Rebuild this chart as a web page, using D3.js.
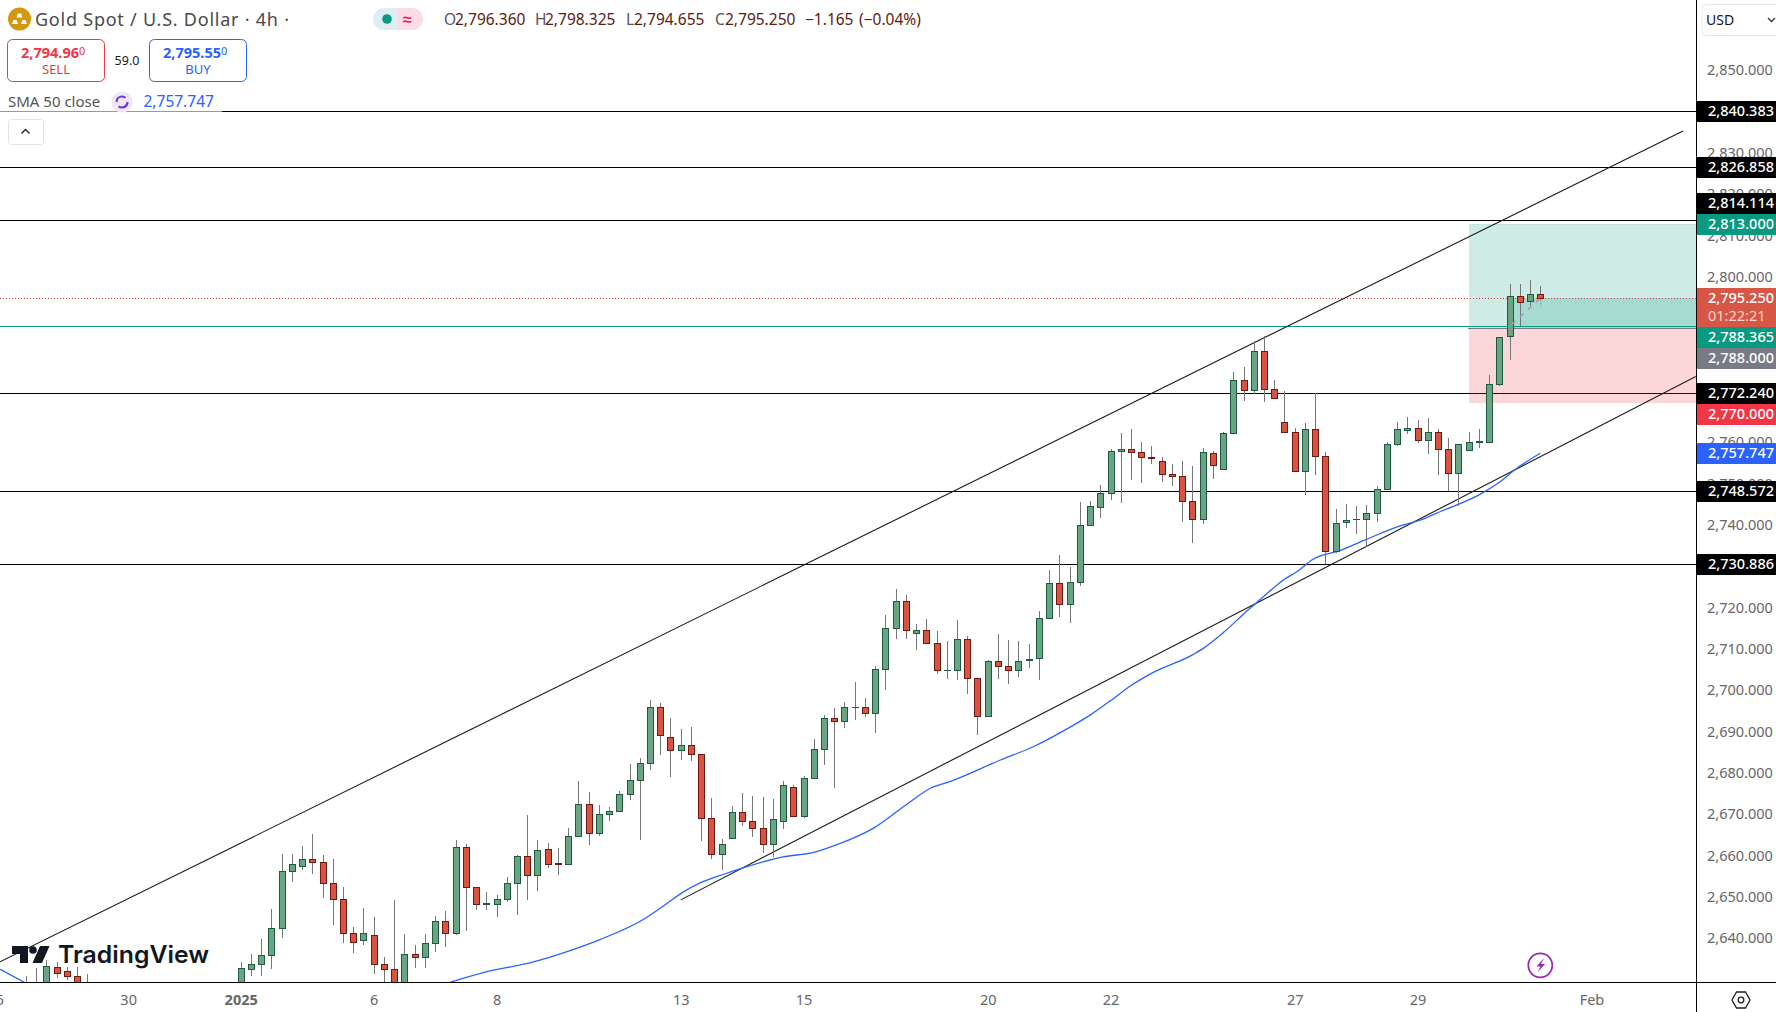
<!DOCTYPE html>
<html><head><meta charset="utf-8">
<script src="https://cdn.jsdelivr.net/npm/d3@7"></script>
<style>
html,body{margin:0;padding:0;background:#fff;overflow:hidden}
svg{display:block}
text{font-family:"Noto Sans",sans-serif}
</style></head><body>
<svg id="c" width="1776" height="1012"></svg>
<script>
// ---------- data ----------
const barIndex = d3.range(-21,-14).concat(d3.range(0,128));
const opens = [2626,2627,2628,2633.4,2632.4,2631.4,2629,
2627,2633.0,2634.1,2636.3,2643.0,2656.6,2657.8,2659.5,2658.8,2653.7,
2649.8,2641.8,2639.9,2641.3,2634.1,2632.9,2627,2636.7,2636.0,2639.2,
2644.5,2641.6,2662.4,2652.7,2648.8,2648.8,2650.0,2653.7,2660.2,2655.6,
2662.1,2658.6,2658.5,2665.1,2672.8,2666.0,2670.4,2671.1,2675.2,2678.6,
2682.7,2696.3,2689.2,2685.9,2687.1,2684.9,2669.4,2660.9,2664.6,2670.9,
2668.7,2667.2,2663.1,2668.9,2676.9,2669.9,2679.3,2686.1,2693.8,2692.9,
2696.3,2696.3,2694.8,2705.5,2715.4,2721.9,2714.2,2714.9,2711.8,2705.2,
2705.2,2712.7,2703.3,2694.1,2707.4,2706.2,2705.2,2707.8,2708.1,2718.0,
2726.3,2721.4,2726.5,2740.3,2744.7,2748.1,2758.2,2758.7,2758.0,2756.8,
2755.8,2752.7,2752.2,2746.1,2741.8,2757.7,2753.9,2762.6,2775.4,2773.0,
2782.4,2773.4,2765.2,2763.0,2753.4,2763.5,2757.2,2734.0,2741.0,2741.8,
2741.8,2743.4,2749.0,2759.9,2763.3,2763.8,2760.9,2762.8,2758.9,2752.9,
2758.5,2760.5,2760.5,2774.4,2786.0,2795.7,2794.5,2796.36];
const closes = [2628,2629,2633.8,2632.1,2631.4,2627,2626,
2633.1,2634.1,2636.3,2643.0,2656.6,2658.3,2659.5,2658.8,2653.7,2649.8,
2641.8,2639.6,2641.6,2634.1,2632.9,2627,2636.7,2636.0,2639.2,2644.5,
2641.6,2662.4,2652.7,2648.6,2648.9,2650.0,2653.7,2660.2,2655.6,2661.7,
2658.5,2658.5,2665.1,2672.8,2666.0,2670.4,2671.1,2675.2,2678.6,2682.7,
2696.3,2689.5,2685.9,2687.1,2684.9,2669.4,2660.9,2663.1,2670.9,2668.7,
2667.2,2663.1,2669.2,2677.6,2669.9,2679.3,2686.1,2693.8,2692.9,2696.3,
2696.4,2694.8,2705.5,2715.4,2721.9,2714.9,2714.9,2711.8,2705.2,2705.3,
2712.7,2703.3,2694.1,2707.4,2706.2,2705.2,2707.6,2707.9,2718.0,2726.3,
2721.4,2726.5,2740.3,2744.9,2748.1,2758.2,2758.7,2758.0,2756.8,2756.7,
2752.7,2752.2,2746.1,2741.8,2758.0,2754.8,2762.6,2775.4,2773.0,2782.4,
2773.4,2771.0,2762.9,2753.4,2763.5,2757.2,2734.0,2740.8,2741.5,2741.9,
2743.4,2749.0,2759.9,2763.5,2763.8,2760.9,2762.8,2758.7,2752.9,2760.1,
2760.4,2760.6,2774.4,2785.8,2795.7,2794.3,2796.4,2795.25];
const highs = [2631.3,2633.3,2635.1,2634.6,2633.4,2633.4,2631.7,
2634.6,2636.6,2640.2,2647.4,2660.8,2660.8,2662.7,2665.6,2660.5,2659.6,
2652.8,2643.1,2647.7,2645.5,2635.8,2649.6,2641.4,2638.8,2641.4,2645.8,
2647.0,2664.3,2663.1,2652.7,2651.6,2650.8,2655.2,2660.5,2670.2,2664.2,
2663.4,2662.2,2667.1,2678.4,2675.7,2672.6,2672.1,2676.0,2682.6,2684.0,
2698.0,2697.3,2693.7,2691.0,2691.5,2685.1,2674.3,2664.4,2672.4,2675.5,
2674.8,2674.6,2674.1,2678.4,2677.4,2679.6,2688.6,2694.4,2696.1,2697.6,
2702.4,2698.5,2706.3,2718.6,2724.9,2723.4,2716.4,2717.6,2714.7,2712.3,
2717.4,2713.5,2703.3,2707.7,2714.0,2712.6,2712.3,2711.6,2719.6,2729.5,
2733.1,2730.2,2746.0,2746.2,2750.1,2758.8,2762.7,2763.6,2760.5,2759.5,
2756.8,2755.2,2755.9,2754.7,2759.0,2758.3,2762.9,2777.4,2778.6,2784.8,
2786.0,2775.5,2772.8,2763.8,2765.0,2772.3,2758.0,2744.3,2745.5,2745.1,
2745.2,2749.8,2760.5,2765.3,2766.5,2765.8,2766.3,2763.6,2761.4,2760.1,
2762.9,2763.6,2776.7,2785.8,2798.7,2798.7,2799.7,2798.325];
const lows = [2622,2624,2627,2630.8,2630.3,2625,2625,
2625,2631.3,2631.3,2633.0,2640.5,2654.1,2657.0,2656.0,2650.2,2643.7,
2639.3,2636.9,2638.8,2631.8,2628,2625,2626,2633.3,2633.3,2637.2,
2638.4,2641.2,2642.2,2647.2,2647.3,2645.6,2649.2,2646.1,2649.7,2651.9,
2657.5,2655.8,2658.2,2664.8,2663.0,2665.2,2668.8,2670.9,2673.8,2664.3,
2681.1,2684.8,2679.5,2683.6,2683.3,2664.0,2659.6,2657.0,2664.6,2667.6,
2665.0,2661.1,2660.1,2666.9,2669.8,2669.6,2679.2,2682.4,2676.8,2691.3,
2693.3,2694.0,2690.1,2700.5,2712.9,2712.9,2710.2,2711.5,2704.4,2703.2,
2703.0,2699.6,2689.7,2694.1,2703.2,2702.0,2703.5,2705.9,2703.0,2718.0,
2718.2,2716.8,2725.7,2740.2,2742.2,2746.5,2745.8,2751.4,2750.6,2755.2,
2750.9,2749.9,2741.0,2736.1,2740.7,2751.6,2753.9,2762.5,2770.5,2772.0,
2770.2,2771.0,2762.9,2753.1,2747.7,2752.6,2730.9,2733.5,2739.7,2738.3,
2735.0,2741.2,2749.0,2759.6,2762.5,2760.3,2757.6,2752.6,2748.5,2745.1,
2758.5,2759.1,2760.5,2774.0,2780.4,2788.5,2793.4,2794.655];

const smaLeftIndex = [-23.5,-21.1];
const smaLeftValue = [2632.9,2629.7];
const smaIndex = [20.5,23.7,28.6,31.9,35.1,39.3,41.3,43.3,44.9,47.2,49.4,53,56,58.2,61.8,65.4,67.4,69.3,74.3,77.5,80.7,83,84.95,86.9,89,93.1,94.1,96,98.6,99.6,101.9,103.2,104.8,107.4,110,112.3,115.9,117.2,121.1,123.1,124.7,127];
const smaValue = [2629.8,2632.1,2634.7,2637.2,2640.1,2644.9,2648.2,2651.7,2653.8,2655.9,2657.7,2660.1,2661.2,2663.0,2667.0,2673.4,2676.7,2678.3,2683.6,2686.8,2691.0,2694.4,2697.8,2701.4,2704.5,2709.1,2710.6,2714.3,2720.2,2722.3,2727.1,2729.1,2732.1,2734.2,2736.9,2739.3,2742.2,2743.6,2747.8,2750.9,2754.1,2757.747];

const levels = [2840.383,2826.858,2814.114,2772.240,2748.572,2730.886];
const channelUpper = [[-23.52,2634.7],[140.95,2835.7]];
const channelLower = [[43.0,2649.7],[142.2,2776.3]];
const entryLine = 2788.365, lastPrice = 2795.25;
const targetLevel = 2813, entryLevel = 2788, stopLevel = 2770;
const positionStartIndex = 120.0, activeStartIndex = 124.3;
const pathIndex = [124.2,127], pathValue = [2788.9,2795.25];
const lastBarDash = [2795.25,2793.3];

const priceTicks = d3.range(2640,2851,10);
const timeTickIndex = [-24,-11,0,13,25,43,55,73,85,103,115,132];
const timeTickLabels = ["26","30","2025","6","8","13","15","20","22","27","29","Feb"];

const tagValues = [2840.383,2826.858,2814.114,2813,2788.365,2788,2772.24,2770,2757.747,2748.572,2730.886];
const tagColors = ["#000","#000","#000","#089981","#089981","#787b86","#000","#f23645","#2962ff","#000","#000"];
const tagShifts = [0,0,-17,0,11,30,0,12,0,0,0];

// ---------- scales ----------
const W=1776,H=1012,plotR=1696,plotB=982;
const x=d3.scaleLinear().domain([0,127]).range([240.7,1540.3]);
const y=d3.scaleLinear().domain([2840.383,2730.886]).range([111.7,564.3]);
const svg=d3.select("#c");
svg.append("defs").append("clipPath").attr("id","plot").append("rect").attr("width",plotR).attr("height",plotB);
const plot=svg.append("g").attr("clip-path","url(#plot)");
const crisp=s=>s.attr("shape-rendering","crispEdges");
const fmt=d3.format(",.3f");
const rowY=v=>Math.floor(y(v))+.5;

// ---------- horizontal levels ----------
crisp(plot.selectAll(".lv").data(levels).join("line").attr("x1",0).attr("x2",plotR)
  .attr("y1",rowY).attr("y2",rowY).attr("stroke","#000"));

// ---------- position tool ----------
const pxStart=x(positionStartIndex), axStart=x(activeStartIndex);
crisp(plot.append("rect").attr("x",pxStart).attr("y",y(targetLevel)).attr("width",plotR-pxStart).attr("height",y(entryLevel)-y(targetLevel)).attr("fill","#089981").attr("fill-opacity",.2));
crisp(plot.append("rect").attr("x",pxStart).attr("y",y(entryLevel)).attr("width",plotR-pxStart).attr("height",y(stopLevel)-y(entryLevel)).attr("fill","#f23645").attr("fill-opacity",.2));
crisp(plot.append("rect").attr("x",axStart).attr("y",y(lastPrice)).attr("width",plotR-axStart).attr("height",y(entryLevel)-y(lastPrice)).attr("fill","#089981").attr("fill-opacity",.2));
crisp(plot.append("line").attr("x1",pxStart).attr("x2",plotR).attr("y1",rowY(targetLevel)).attr("y2",rowY(targetLevel)).attr("stroke","#089981").attr("stroke-opacity",.25));
crisp(plot.append("line").attr("x1",pxStart-1).attr("x2",plotR).attr("y1",rowY(entryLevel)).attr("y2",rowY(entryLevel)).attr("stroke","#787b86").attr("stroke-width",1));

// ---------- teal + dotted ----------
crisp(plot.append("line").attr("x1",0).attr("x2",plotR).attr("y1",rowY(entryLine)).attr("y2",rowY(entryLine)).attr("stroke","#089981").attr("stroke-width",1));
crisp(plot.append("line").attr("x1",0).attr("x2",plotR).attr("y1",rowY(lastPrice)).attr("y2",rowY(lastPrice)).attr("stroke","#d9453a").attr("stroke-dasharray","1 2"));

// ---------- channels ----------
const ln=d3.line().x(d=>x(d[0])).y(d=>y(d[1]));
[channelUpper,channelLower].forEach(c=>plot.append("path").attr("d",ln(c)).attr("fill","none").attr("stroke","#1a1a1a").attr("stroke-width",1.1));

// ---------- SMA ----------
const smaPath=d3.line().curve(d3.curveMonotoneX);
[[smaLeftIndex,smaLeftValue],[smaIndex,smaValue]].forEach(([a,b])=>
  plot.append("path").attr("d",smaPath(a.map((d,i)=>[x(d),y(b[i])]))).attr("fill","none").attr("stroke","#2962ff").attr("stroke-width",1.3));

// ---------- candles ----------
const bars=barIndex.map((d,i)=>({i:d,o:opens[i],h:highs[i],l:lows[i],c:closes[i]}));
const cx=d=>Math.round(x(d.i));
const isUp=d=>d.c>=d.o;
const candles=plot.append("g");
crisp(candles.selectAll(".w").data(bars).join("rect").attr("x",cx).attr("width",1)
  .attr("y",d=>Math.round(y(d.h))).attr("height",d=>Math.max(1,Math.round(y(d.l))-Math.round(y(d.h)))).attr("fill","#767676"));
const bodyTop=d=>Math.round(y(Math.max(d.o,d.c))), bodyBot=d=>Math.round(y(Math.min(d.o,d.c)));
crisp(candles.selectAll(".b").data(bars).join("rect").attr("x",d=>cx(d)-3).attr("width",7)
  .attr("y",bodyTop).attr("height",d=>Math.max(1,bodyBot(d)-bodyTop(d)+1)).attr("fill",d=>isUp(d)?"#1e5a40":"#6e1a12"));
crisp(candles.selectAll(".f").data(bars).join("rect").attr("x",d=>cx(d)-2).attr("width",5)
  .attr("y",d=>bodyTop(d)+1).attr("height",d=>Math.max(0,bodyBot(d)-bodyTop(d)-1)).attr("fill",d=>isUp(d)?"#6aa583":"#d85342"));

// ---------- projection dashes ----------
plot.append("line").attr("x1",x(pathIndex[0])).attr("x2",x(pathIndex[1])).attr("y1",y(pathValue[0])).attr("y2",y(pathValue[1]))
  .attr("stroke","#a0a0a0").attr("stroke-width",1.6).attr("stroke-dasharray","5 6");
plot.append("line").attr("x1",x(127)+.5).attr("x2",x(127)+.5).attr("y1",y(lastBarDash[0])+1).attr("y2",y(lastBarDash[1]))
  .attr("stroke","#a8a8a8").attr("stroke-width",1.6).attr("stroke-dasharray","2 1");

// ---------- axis frame ----------
svg.append("rect").attr("x",plotR).attr("width",W-plotR).attr("height",H).attr("fill","#fff");
svg.append("rect").attr("y",plotB).attr("width",W).attr("height",H-plotB).attr("fill","#fff");

// ---------- price axis ----------
const axisFont=14.5;
const ya=svg.append("g").attr("transform",`translate(${plotR},0)`)
  .call(d3.axisRight(y).tickValues(priceTicks).tickFormat(fmt).tickSize(0).tickPadding(11));
ya.select(".domain").remove();
ya.selectAll("text").attr("font-size",axisFont).attr("fill","#666").attr("font-family",'"Noto Sans",sans-serif').attr("dy","0.2em");

// ---------- time axis ----------
const xa=svg.append("g").attr("transform",`translate(0,${plotB})`)
  .call(d3.axisBottom(x).tickValues(timeTickIndex).tickFormat((d,i)=>timeTickLabels[i]).tickSize(0).tickPadding(13));
xa.select(".domain").remove();
xa.selectAll("text").attr("font-size",14.5).attr("fill","#666").attr("font-family",'"Noto Sans",sans-serif')
  .attr("font-weight",(d,i)=>timeTickLabels[i]==="2025"?700:400);

crisp(svg.append("line").attr("x1",plotR+.5).attr("x2",plotR+.5).attr("y1",0).attr("y2",H).attr("stroke","#000").attr("stroke-width",1));
crisp(svg.append("line").attr("x1",0).attr("x2",W).attr("y1",plotB+.5).attr("y2",plotB+.5).attr("stroke","#000").attr("stroke-width",1));

// ---------- tags ----------
const tagH=21, tagTextX=1774;
const tagG=svg.append("g");
tagValues.forEach((v,i)=>{
  const t=Math.round(y(v)-10.5+tagShifts[i]);
  crisp(tagG.append("rect").attr("x",plotR+1).attr("y",t).attr("width",W-plotR-1).attr("height",tagH).attr("fill",tagColors[i]));
  tagG.append("text").attr("x",tagTextX).attr("y",t+15).attr("text-anchor","end").attr("font-size",axisFont).attr("font-weight",500).attr("fill","#fff").text(fmt(v));
});
const lt=Math.round(y(lastPrice)-10.5);
crisp(tagG.append("rect").attr("x",plotR+1).attr("y",lt).attr("width",W-plotR-1).attr("height",39).attr("fill","#d65745"));
tagG.append("text").attr("x",tagTextX).attr("y",lt+15).attr("text-anchor","end").attr("font-size",axisFont).attr("font-weight",500).attr("fill","#fff").text(fmt(lastPrice));
tagG.append("text").attr("x",1708).attr("y",lt+33).attr("font-size",axisFont).attr("fill","#fbd5cf").text("01:22:21");

// ---------- USD box ----------
svg.append("rect").attr("x",1702).attr("y",4.5).attr("width",80).attr("height",31).attr("rx",4).attr("fill","#fff").attr("stroke","#e6e8ee");
svg.append("text").attr("x",1706).attr("y",25).attr("font-size",14).attr("fill","#131722").text("USD");
svg.append("path").attr("d","M1768 18l3.5 3.5l3.5-3.5").attr("fill","none").attr("stroke","#333").attr("stroke-width",1.3);

// ---------- header ----------
const T=(px,py,s,size,fill,w)=>svg.append("text").attr("x",px).attr("y",py).attr("font-size",size).attr("fill",fill).attr("font-weight",w||400).text(s);
svg.append("circle").attr("cx",19.5).attr("cy",19).attr("r",11.5).attr("fill","#d4980f");
[[19.5,13.5],[15,20],[24,20]].forEach(p=>svg.append("path").attr("d",`M${p[0]-3} ${p[1]+4}l1.5-4h3l1.5 4z`).attr("fill","#fff"));
T(35,26,"Gold Spot / U.S. Dollar · 4h ·",18,"#4a4a4a").attr("textLength",254).attr("lengthAdjust","spacing");
svg.append("path").attr("d","M384 8h14v22h-14a11 11 0 0 1 0-22z").attr("fill","#deedf3");
svg.append("path").attr("d","M398 8h14a11 11 0 0 1 0 22h-14z").attr("fill","#fadbe6");
svg.append("circle").attr("cx",387).attr("cy",19).attr("r",4.8).attr("fill","#089981");
T(403,25,"≈",16,"#e91e63",700);
[["O",444],["H",535],["L",626],["C",715]].forEach(([l,px],i)=>{
  T(px,25,l,15.5,"#555");
  T(px+(l==="L"?8:l==="O"?11:10),25,["2,796.360","2,798.325","2,794.655","2,795.250"][i],15.5,"#5d1a10");
});
T(805,25,"−1.165",15.5,"#5d1a10");
T(859,25,"(−0.04%)",15.5,"#5d1a10");

svg.append("rect").attr("x",7.5).attr("y",39.5).attr("width",97).attr("height",42).attr("rx",5).attr("fill","#fff").attr("stroke","#f23645");
svg.append("rect").attr("x",149.5).attr("y",39.5).attr("width",97).attr("height",42).attr("rx",5).attr("fill","#fff").attr("stroke","#2962ff");
const quote=(px,s,col)=>{const t=T(px,58,s,14.5,col,700);t.append("tspan").attr("font-size",11).attr("font-weight",400).attr("dy",-3).text("0");};
quote(21,"2,794.96","#f23645"); quote(163,"2,795.55","#2962ff");
T(56,74,"SELL",13,"#f23645").attr("text-anchor","middle");
T(198,74,"BUY",13,"#2962ff").attr("text-anchor","middle");
T(127,65,"59.0",12.5,"#222").attr("text-anchor","middle");

svg.append("rect").attr("x",0).attr("y",93).attr("width",222).attr("height",20).attr("fill","#fff").attr("fill-opacity",.6);
T(8,107,"SMA 50 close",15,"#555");
T(143.5,107,"2,757.747",15.5,"#2962ff");
svg.append("circle").attr("cx",122).attr("cy",102).attr("r",10.5).attr("fill","#efe6f6");
svg.append("circle").attr("cx",122).attr("cy",102).attr("r",5.5).attr("fill","none").attr("stroke","#6a35e0").attr("stroke-width",2.2).attr("stroke-dasharray","12 5");
svg.append("rect").attr("x",8.5).attr("y",119.5).attr("width",35).attr("height",25).attr("rx",3).attr("fill","#fff").attr("stroke","#e0e3eb");
svg.append("path").attr("d","M21.5 133.5l4-4l4 4").attr("fill","none").attr("stroke","#222").attr("stroke-width",1.4);

// ---------- logo ----------
const logo=svg.append("g").attr("fill","#131722");
logo.append("path").attr("d","M12 946h16v17h-8v-9h-8z");
logo.append("circle").attr("cx",33).attr("cy",950).attr("r",3.8);
logo.append("path").attr("d","M40 946h9.5l-7.5 17h-9.5z");
svg.append("text").attr("x",58).attr("y",963).attr("font-size",24).attr("font-weight",600).attr("fill","#131722")
  .attr("textLength",151).attr("lengthAdjust","spacingAndGlyphs").style("font-family","Inter").text("TradingView");

// ---------- lightning + settings ----------
svg.append("circle").attr("cx",1540.3).attr("cy",965.3).attr("r",12).attr("fill","#fff").attr("stroke","#9c27b0").attr("stroke-width",1.8);
svg.append("path").attr("d","M1544 958l-7.5 8.5h4l-3 6l7.5-8.5h-4z").attr("fill","#9c27b0");
svg.append("path").attr("d","M1732 1000l4.5-8h9l4.5 8l-4.5 8h-9z").attr("fill","none").attr("stroke","#222").attr("stroke-width",1.3);
svg.append("circle").attr("cx",1741).attr("cy",1000).attr("r",2.8).attr("fill","none").attr("stroke","#222").attr("stroke-width",1.3);
</script>
</body></html>
